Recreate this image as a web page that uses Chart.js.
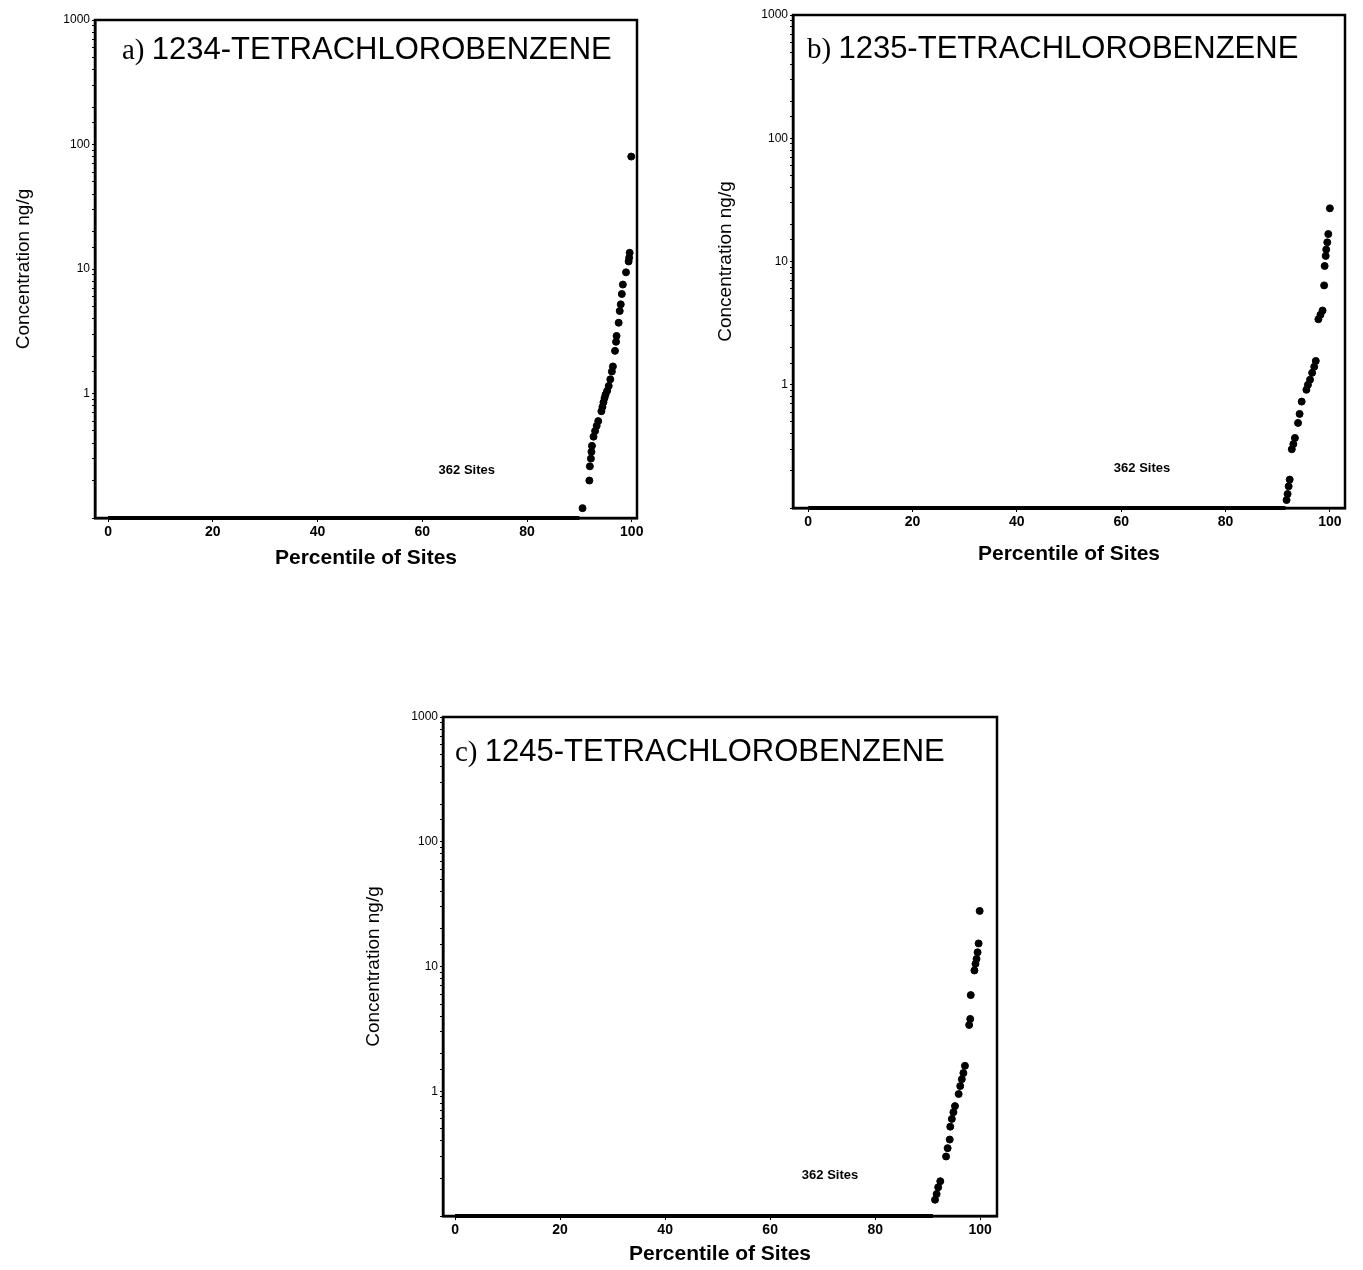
<!DOCTYPE html>
<html>
<head>
<meta charset="utf-8">
<script src="https://cdn.jsdelivr.net/npm/chart.js@4/dist/chart.umd.min.js"></script>
<style>
  body { margin: 0; background: #fff; width: 1363px; height: 1270px; position: relative; overflow: hidden; }
  .box { position: absolute; }
</style>
</head>
<body>
<div class="box" style="left:0px;top:0px;width:660px;height:580px"><canvas id="chartA"></canvas></div>
<div class="box" style="left:690px;top:0px;width:670px;height:575px"><canvas id="chartB"></canvas></div>
<div class="box" style="left:340px;top:700px;width:680px;height:570px"><canvas id="chartC"></canvas></div>
<script>
// tick labels
const xTicks = [0, 20, 40, 60, 80, 100];
const yLabels = [1, 10, 100, 1000];

// non-detects sit on the 0.1 line
const ndConc = 0.1;
const aNdRange = [0, 90];
const bNdRange = [0, 91.5];
const cNdRange = [0, 91];

// a) 1234-TETRACHLOROBENZENE
const aPercentile = [90.6, 91.9, 92.0, 92.2, 92.3, 92.4, 92.7, 93.0, 93.3, 93.6, 94.2, 94.4, 94.6, 94.8, 95.0, 95.3, 95.6, 95.9, 96.2, 96.4, 96.8, 97.0, 97.1, 97.5, 97.7, 97.9, 98.1, 98.3, 98.9, 99.4, 99.5, 99.6, 99.9];
const aConc = [0.12, 0.20, 0.26, 0.30, 0.34, 0.38, 0.45, 0.50, 0.55, 0.60, 0.72, 0.78, 0.85, 0.92, 0.98, 1.05, 1.15, 1.3, 1.5, 1.65, 2.2, 2.6, 2.9, 3.7, 4.6, 5.2, 6.3, 7.5, 9.4, 11.5, 12.3, 13.5, 80];

// b) 1235-TETRACHLOROBENZENE
const bPercentile = [91.7, 91.9, 92.1, 92.3, 92.7, 93.0, 93.3, 93.9, 94.2, 94.6, 95.5, 95.8, 96.2, 96.6, 97.0, 97.3, 97.8, 98.2, 98.6, 98.9, 99.0, 99.2, 99.3, 99.5, 99.7, 100];
const bConc = [0.116, 0.13, 0.15, 0.17, 0.30, 0.33, 0.37, 0.49, 0.58, 0.73, 0.91, 1.0, 1.1, 1.25, 1.4, 1.56, 3.4, 3.7, 4.0, 6.4, 9.2, 11.1, 12.5, 14.3, 16.7, 27];

// c) 1245-TETRACHLOROBENZENE
const cPercentile = [91.4, 91.7, 92.0, 92.4, 93.5, 93.8, 94.2, 94.3, 94.6, 94.9, 95.2, 95.9, 96.2, 96.5, 96.8, 97.1, 97.9, 98.1, 98.2, 98.9, 99.1, 99.3, 99.5, 99.7, 99.9];
const cConc = [0.135, 0.15, 0.17, 0.19, 0.30, 0.35, 0.41, 0.52, 0.60, 0.68, 0.76, 0.95, 1.1, 1.25, 1.4, 1.6, 3.4, 3.8, 5.9, 9.3, 10.5, 11.5, 13, 15.3, 27.9];

// draws the frame, panel heading and the "362 Sites" note
const panelText = {
    id: 'panelText',
    afterDraw(chart, args, opts) {
        const ctx = chart.ctx;
        const area = chart.chartArea;
        ctx.save();
        ctx.strokeStyle = '#000';
        ctx.lineWidth = 2.5;
        ctx.strokeRect(area.left, area.top, area.right - area.left, area.bottom - area.top);

        ctx.fillStyle = '#000';
        ctx.textBaseline = 'alphabetic';
        ctx.font = '29px "Times New Roman", "Liberation Serif", serif';
        ctx.fillText(opts.letter, area.left + opts.dx, area.top + opts.dy);
        const w = ctx.measureText(opts.letter + ' ').width;
        ctx.font = '31px Arial, "Liberation Sans", sans-serif';
        ctx.fillText(opts.heading, area.left + opts.dx + w, area.top + opts.dy);

        const x = chart.scales.x.getPixelForValue(opts.noteX);
        const y = chart.scales.y.getPixelForValue(opts.noteY);
        ctx.font = 'bold 13px Arial, "Liberation Sans", sans-serif';
        ctx.textAlign = 'center';
        ctx.textBaseline = 'middle';
        ctx.fillText('362 Sites', x, y);
        ctx.restore();
    }
};

function makeChart(id, pct, conc, ndRange, cfg) {
    const ctx = document.getElementById(id).getContext('2d');
    return new Chart(ctx, {
        type: 'scatter',
        data: {
            datasets: [{
                label: 'non-detects',
                type: 'line',
                data: ndRange.map(p => ({ x: p, y: ndConc })),
                borderColor: '#000',
                borderWidth: 4,
                pointRadius: 0,
                clip: false
            }, {
                label: 'sites',
                data: pct.map((p, i) => ({ x: p, y: conc[i] })),
                backgroundColor: '#000',
                borderColor: '#000',
                pointRadius: 3.5,
                pointStyle: 'circle'
            }]
        },
        options: {
            responsive: true,
            maintainAspectRatio: false,
            animation: false,
            layout: { padding: { top: cfg.top, right: cfg.right, left: 0, bottom: 0 } },
            plugins: {
                legend: { display: false },
                tooltip: { enabled: false },
                panelText: cfg.text
            },
            scales: {
                x: {
                    type: 'linear',
                    min: cfg.xMin,
                    max: cfg.xMax,
                    afterBuildTicks: s => { s.ticks = xTicks.map(v => ({ value: v })); },
                    afterFit: s => { s.height = cfg.xHeight; },
                    grid: { display: true, drawOnChartArea: false, tickLength: 4, color: '#000' },
                    border: { color: '#000', width: 2.5 },
                    ticks: {
                        color: '#000',
                        padding: 2,
                        maxRotation: 0,
                        font: { family: 'Arial, "Liberation Sans", sans-serif', size: 14, weight: 'bold' }
                    },
                    title: {
                        display: true,
                        text: 'Percentile of Sites',
                        color: '#000',
                        padding: { top: 0, bottom: cfg.xTitlePad },
                        font: { family: 'Arial, "Liberation Sans", sans-serif', size: 21, weight: '600' }
                    }
                },
                y: {
                    type: 'logarithmic',
                    min: 0.1,
                    max: 1000,
                    afterFit: s => { s.width = cfg.yWidth; },
                    grid: { display: true, drawOnChartArea: false, tickLength: 3, color: '#000' },
                    border: { color: '#000', width: 2.5 },
                    ticks: {
                        color: '#000',
                        padding: 2,
                        autoSkip: false,
                        callback: v => yLabels.includes(Number(v)) ? String(v) : '',
                        font: { family: 'Arial, "Liberation Sans", sans-serif', size: 12 }
                    },
                    title: {
                        display: true,
                        text: 'Concentration ng/g',
                        color: '#000',
                        padding: { top: cfg.yTitlePad, bottom: 0 },
                        font: { family: 'Arial, "Liberation Sans", sans-serif', size: 19 }
                    }
                }
            }
        },
        plugins: [panelText]
    });
}

makeChart('chartA', aPercentile, aConc, aNdRange, {
    top: 20, right: 23, yWidth: 95, xHeight: 62, xMin: -2.5, xMax: 101, xTitlePad: 9, yTitlePad: 12,
    text: { letter: 'a)', heading: '1234-TETRACHLOROBENZENE', dx: 27, dy: 39, noteX: 68.5, noteY: 0.24 }
});

makeChart('chartB', bPercentile, bConc, bNdRange, {
    top: 15, right: 15, yWidth: 103, xHeight: 67, xMin: -2.9, xMax: 102.9, xTitlePad: 8, yTitlePad: 24,
    text: { letter: 'b)', heading: '1235-TETRACHLOROBENZENE', dx: 14, dy: 43, noteX: 64, noteY: 0.21 }
});

makeChart('chartC', cPercentile, cConc, cNdRange, {
    top: 17, right: 23, yWidth: 103, xHeight: 54, xMin: -2.3, xMax: 103.2, xTitlePad: 3, yTitlePad: 22,
    text: { letter: 'c)', heading: '1245-TETRACHLOROBENZENE', dx: 12, dy: 44, noteX: 71.4, noteY: 0.21 }
});
</script>
</body>
</html>
